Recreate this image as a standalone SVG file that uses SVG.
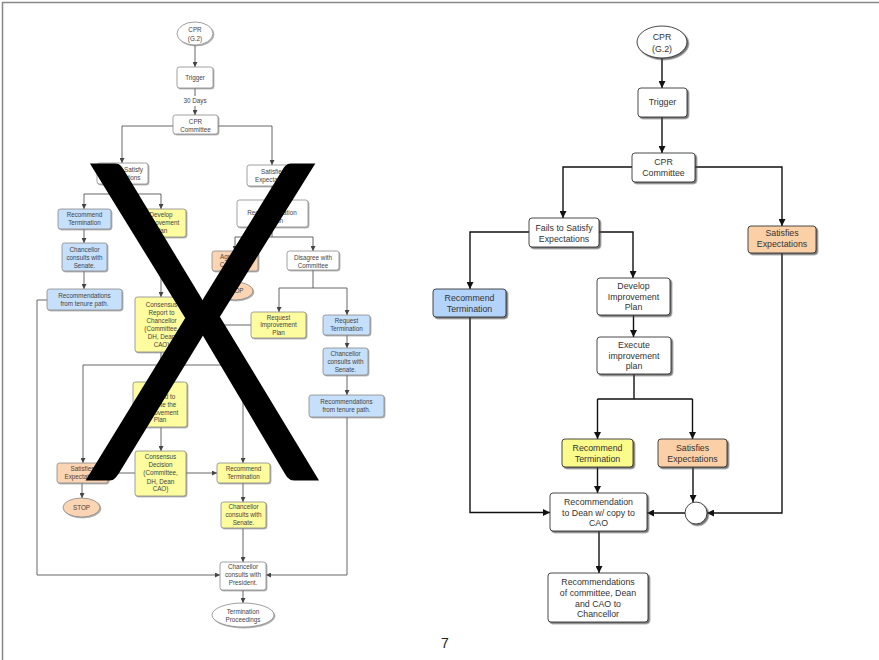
<svg xmlns="http://www.w3.org/2000/svg" width="879" height="660" viewBox="0 0 879 660">
<defs>
<marker id="ar" viewBox="0 0 10 10" refX="10" refY="5" markerWidth="7" markerHeight="7" markerUnits="userSpaceOnUse" orient="auto"><path d="M0,0 L10,5 L0,10 z" fill="#111"/></marker>
<marker id="al" viewBox="0 0 10 10" refX="10" refY="5" markerWidth="5" markerHeight="5" markerUnits="userSpaceOnUse" orient="auto"><path d="M0,0 L10,5 L0,10 z" fill="#444"/></marker>
<filter id="ds" x="-10%" y="-10%" width="130%" height="140%"><feDropShadow dx="1.6" dy="1.6" stdDeviation="0.5" flood-color="#444" flood-opacity="0.75"/></filter>
<filter id="dsl" x="-10%" y="-10%" width="130%" height="140%"><feDropShadow dx="1" dy="1" stdDeviation="0.5" flood-color="#777" flood-opacity="0.6"/></filter>
</defs>
<style>
.R rect,.R ellipse,.R circle{stroke:#333;stroke-width:0.9;filter:url(#ds)}
.R text{font-family:"Liberation Sans",Arial,sans-serif;font-size:8.8px;fill:#333;text-anchor:middle}
.L rect,.L ellipse{stroke:#888;stroke-width:0.8;filter:url(#dsl)}
.L text{font-family:"Liberation Sans",Arial,sans-serif;font-size:6.3px;fill:#444;text-anchor:middle}
.w{fill:#fff}
.bl{fill:#b4d3fb}
.ye{fill:#fbfb8c}
.or{fill:#fcd0a6}
.lbl{fill:#c6dffb}
.lye{fill:#fdfc9e}
.lor{fill:#fbd5b3}
#connR path{fill:none;stroke:#111;stroke-width:1.4}
#connR path.a{marker-end:url(#ar)}
#connL path{fill:none;stroke:#555;stroke-width:0.9}
#connL path.a{marker-end:url(#al)}
</style>
<rect x="0" y="0" width="879" height="660" fill="#fff"/>
<path d="M2.5,660 L2.5,2.5 L879,2.5" fill="none" stroke="#888" stroke-width="1.5"/>

<!-- LEFT DIAGRAM -->
<g id="connL">
<path class="a" d="M195,45 V67"/>
<path d="M195,88 V96"/>
<path class="a" d="M195,106 V115"/>
<path class="a" d="M173,126 H122 V163"/>
<path class="a" d="M218,126 H272 V165"/>
<path d="M122,184 V194 M84,194 H161"/>
<path class="a" d="M84,194 V209"/>
<path class="a" d="M161,194 V209"/>
<path class="a" d="M84,229 V243"/>
<path class="a" d="M84,271 V289"/>
<path class="a" d="M47,300 H37 V575 H220"/>
<path class="a" d="M272,186 V200"/>
<path d="M272,227 V237 M235,237 H313"/>
<path class="a" d="M235,237 V251"/>
<path class="a" d="M313,237 V251"/>
<path class="a" d="M235,271 V282"/>
<path class="a" d="M161,237 V297"/>
<path d="M313,270 V288 M279,288 H347"/>
<path class="a" d="M279,288 V312"/>
<path class="a" d="M347,288 V315"/>
<path class="a" d="M251,325 H188"/>
<path class="a" d="M347,335 V348"/>
<path class="a" d="M347,375 V395"/>
<path class="a" d="M347,417 V575 H266"/>
<path d="M161,352 V365 M83,365 H243"/>
<path class="a" d="M83,365 V463"/>
<path class="a" d="M161,365 V382"/>
<path class="a" d="M243,365 V463"/>
<path class="a" d="M161,427 V451"/>
<path class="a" d="M186,473 H217"/>
<path class="a" d="M135,473 H108"/>
<path class="a" d="M82,483 V498"/>
<path class="a" d="M243,483 V502"/>
<path class="a" d="M243,528 V562"/>
<path class="a" d="M243,590 V603"/>
</g>
<g class="L">
<text x="195" y="103.2">30 Days</text>
<g id="l-cpr"><ellipse class="w" cx="195" cy="33.5" rx="18" ry="11.5"/><text x="195" y="32">CPR</text><text x="195" y="41">(G.2)</text></g>
<g id="l-trigger"><rect class="w" x="177" y="67" width="36" height="21" rx="2.5"/><text x="195" y="80">Trigger</text></g>
<g id="l-committee"><rect class="w" x="173" y="115" width="45" height="19" rx="2.5"/><text x="195.5" y="124">CPR</text><text x="195.5" y="131.5">Committee</text></g>
<g id="l-fails"><rect class="w" x="97" y="163" width="51" height="21" rx="2.5"/><text x="122.5" y="172">Fails to Satisfy</text><text x="122.5" y="179.5">Expectations</text></g>
<g id="l-sat1"><rect class="w" x="247" y="165" width="52" height="21" rx="2.5"/><text x="273" y="174">Satisfies</text><text x="273" y="182">Expectations</text></g>
<g id="l-rt1"><rect class="lbl" x="58" y="209" width="53" height="20" rx="2.5"/><text x="84.5" y="216.5">Recommend</text><text x="84.5" y="224.5">Termination</text></g>
<g id="l-dev"><rect class="lye" x="136" y="209" width="50" height="28" rx="2.5"/><text x="161" y="217">Develop</text><text x="161" y="225">Improvement</text><text x="161" y="233">Plan</text></g>
<g id="l-ccs1"><rect class="lbl" x="62" y="243" width="45" height="28" rx="2.5"/><text x="84.5" y="251.5">Chancellor</text><text x="84.5" y="259.5">consults with</text><text x="84.5" y="267.5">Senate.</text></g>
<g id="l-rtp1"><rect class="lbl" x="47" y="289" width="75" height="21" rx="2.5"/><text x="84.5" y="298">Recommendations</text><text x="84.5" y="305.5">from tenure path.</text></g>
<g id="l-rec"><rect class="w" x="237" y="200" width="71" height="27" rx="2.5"/><text x="272" y="215">Recommendation</text><text x="272" y="223">to Dean</text></g>
<g id="l-agree"><rect class="lor" x="212" y="251" width="46" height="20" rx="2.5"/><text x="235" y="259">Agree with</text><text x="235" y="267">Committee</text></g>
<g id="l-stop2"><ellipse class="lor" cx="235" cy="291" rx="18" ry="9"/><text x="235" y="293.3">STOP</text></g>
<g id="l-dis"><rect class="w" x="287" y="251" width="52" height="19" rx="2.5"/><text x="313" y="260">Disagree with</text><text x="313" y="267.5">Committee</text></g>
<g id="l-cons"><rect class="lye" x="135" y="297" width="53" height="55" rx="2.5"/><text x="161.5" y="307">Consensus</text><text x="161.5" y="315">Report to</text><text x="161.5" y="322.5">Chancellor</text><text x="161.5" y="330.5">(Committee,</text><text x="161.5" y="338.5">DH, Dean</text><text x="161.5" y="346.5">CAO)</text></g>
<g id="l-rip"><rect class="lye" x="251" y="312" width="55" height="26" rx="2.5"/><text x="278.5" y="319.5">Request</text><text x="278.5" y="327">Improvement</text><text x="278.5" y="334.5">Plan</text></g>
<g id="l-rqt"><rect class="lbl" x="323" y="315" width="47" height="20" rx="2.5"/><text x="346.5" y="323">Request</text><text x="346.5" y="331">Termination</text></g>
<g id="l-ccs2"><rect class="lbl" x="323" y="348" width="45" height="27" rx="2.5"/><text x="345.5" y="355.5">Chancellor</text><text x="345.5" y="364">consults with</text><text x="345.5" y="372">Senate.</text></g>
<g id="l-rtp2"><rect class="lbl" x="309" y="395" width="75" height="22" rx="2.5"/><text x="346.5" y="403.5">Recommendations</text><text x="346.5" y="411.5">from tenure path.</text></g>
<g id="l-exe"><rect class="lye" x="133" y="382" width="54" height="45" rx="2.5"/><text x="160" y="399">Proceed to</text><text x="160" y="406.5">execute the</text><text x="160" y="414.5">Improvement</text><text x="160" y="422">Plan</text></g>
<g id="l-sat2"><rect class="lor" x="57" y="463" width="51" height="20" rx="2.5"/><text x="82.5" y="471">Satisfies</text><text x="82.5" y="479">Expectations</text></g>
<g id="l-stop1"><ellipse class="lor" cx="81.5" cy="507.5" rx="18.5" ry="9.5"/><text x="81.5" y="509.8">STOP</text></g>
<g id="l-cd"><rect class="lye" x="135" y="451" width="51" height="45" rx="2.5"/><text x="160.5" y="459">Consensus</text><text x="160.5" y="467">Decision</text><text x="160.5" y="475">(Committee,</text><text x="160.5" y="483.5">DH, Dean</text><text x="160.5" y="491">CAO)</text></g>
<g id="l-rt3"><rect class="lye" x="217" y="463" width="53" height="20" rx="2.5"/><text x="243.5" y="471">Recommend</text><text x="243.5" y="479">Termination</text></g>
<g id="l-ccs3"><rect class="lye" x="221" y="502" width="45" height="26" rx="2.5"/><text x="243.5" y="509">Chancellor</text><text x="243.5" y="517">consults with</text><text x="243.5" y="525">Senate.</text></g>
<g id="l-ccp"><rect class="w" x="220" y="562" width="46" height="28" rx="2.5"/><text x="243" y="569">Chancellor</text><text x="243" y="577">consults with</text><text x="243" y="585">President.</text></g>
<g id="l-tp"><ellipse class="w" cx="243" cy="615" rx="31" ry="12"/><text x="243" y="614">Termination</text><text x="243" y="621.5">Proceedings</text></g>
</g>

<!-- Big cross-out X -->
<text id="bigX" transform="translate(202.5,477) scale(0.87,1)" x="0" y="0" font-family="Lato,'Liberation Sans',sans-serif" font-weight="300" font-size="438" text-anchor="middle" fill="#000" stroke="#000" stroke-width="7" stroke-linejoin="miter" stroke-miterlimit="10">X</text>

<!-- RIGHT DIAGRAM -->
<g id="connR">
<path class="a" d="M662,58 V88"/>
<path class="a" d="M662,117 V153"/>
<path class="a" d="M632,167 H563 V218"/>
<path class="a" d="M695,167 H782 V226"/>
<path class="a" d="M529,232 H470 V289"/>
<path class="a" d="M599,232 H633 V278"/>
<path class="a" d="M633.5,315 V337"/>
<path d="M634,374 V399 M597.5,399 H692.5"/>
<path class="a" d="M597.5,399 V439"/>
<path class="a" d="M692.5,399 V439"/>
<path class="a" d="M597.5,467 V493"/>
<path class="a" d="M693,467 V502"/>
<path class="a" d="M470,317 V512.5 H550"/>
<path class="a" d="M685,513 H647"/>
<path class="a" d="M782,253 V513 H707"/>
<path class="a" d="M599,531 V573"/>
</g>
<g class="R">
<g id="r-cpr"><ellipse class="w" cx="662" cy="42" rx="25" ry="16"/><text x="662" y="40">CPR</text><text x="662" y="52">(G.2)</text></g>
<g id="r-trigger"><rect class="w" x="638" y="88" width="49" height="29" rx="3"/><text x="662.5" y="105">Trigger</text></g>
<g id="r-committee"><rect class="w" x="632" y="153" width="63" height="29" rx="3"/><text x="663.5" y="165">CPR</text><text x="663.5" y="175.5">Committee</text></g>
<g id="r-fails"><rect class="w" x="529" y="218" width="70" height="29" rx="3"/><text x="564" y="231">Fails to Satisfy</text><text x="564" y="241.5">Expectations</text></g>
<g id="r-sat1"><rect class="or" x="748" y="226" width="68" height="27" rx="3"/><text x="782" y="236">Satisfies</text><text x="782" y="247">Expectations</text></g>
<g id="r-rt1"><rect class="bl" x="433" y="289" width="73" height="28" rx="3"/><text x="469.5" y="301">Recommend</text><text x="469.5" y="311.5">Termination</text></g>
<g id="r-dev"><rect class="w" x="597" y="278" width="73" height="37" rx="3"/><text x="633.5" y="289">Develop</text><text x="633.5" y="299.5">Improvement</text><text x="633.5" y="310">Plan</text></g>
<g id="r-exe"><rect class="w" x="597" y="337" width="74" height="37" rx="3"/><text x="634" y="348">Execute</text><text x="634" y="358.5">improvement</text><text x="634" y="369">plan</text></g>
<g id="r-rt2"><rect class="ye" x="562" y="439" width="71" height="28" rx="3"/><text x="597.5" y="451">Recommend</text><text x="597.5" y="461.5">Termination</text></g>
<g id="r-sat2"><rect class="or" x="658" y="439" width="69" height="28" rx="3"/><text x="692.5" y="451">Satisfies</text><text x="692.5" y="461.5">Expectations</text></g>
<g id="r-join"><circle class="w" cx="696" cy="513" r="11"/></g>
<g id="r-rec"><rect class="w" x="550" y="493" width="97" height="38" rx="3"/><text x="598.5" y="505">Recommendation</text><text x="598.5" y="515.5">to Dean w/ copy to</text><text x="598.5" y="526">CAO</text></g>
<g id="r-final"><rect class="w" x="548" y="573" width="100" height="49" rx="3"/><text x="598" y="585">Recommendations</text><text x="598" y="596">of committee, Dean</text><text x="598" y="606.5">and CAO to</text><text x="598" y="617">Chancellor</text></g>
</g>

<text x="445" y="648" font-family="'Liberation Sans',Arial,sans-serif" font-size="14" text-anchor="middle" fill="#222">7</text>
</svg>
